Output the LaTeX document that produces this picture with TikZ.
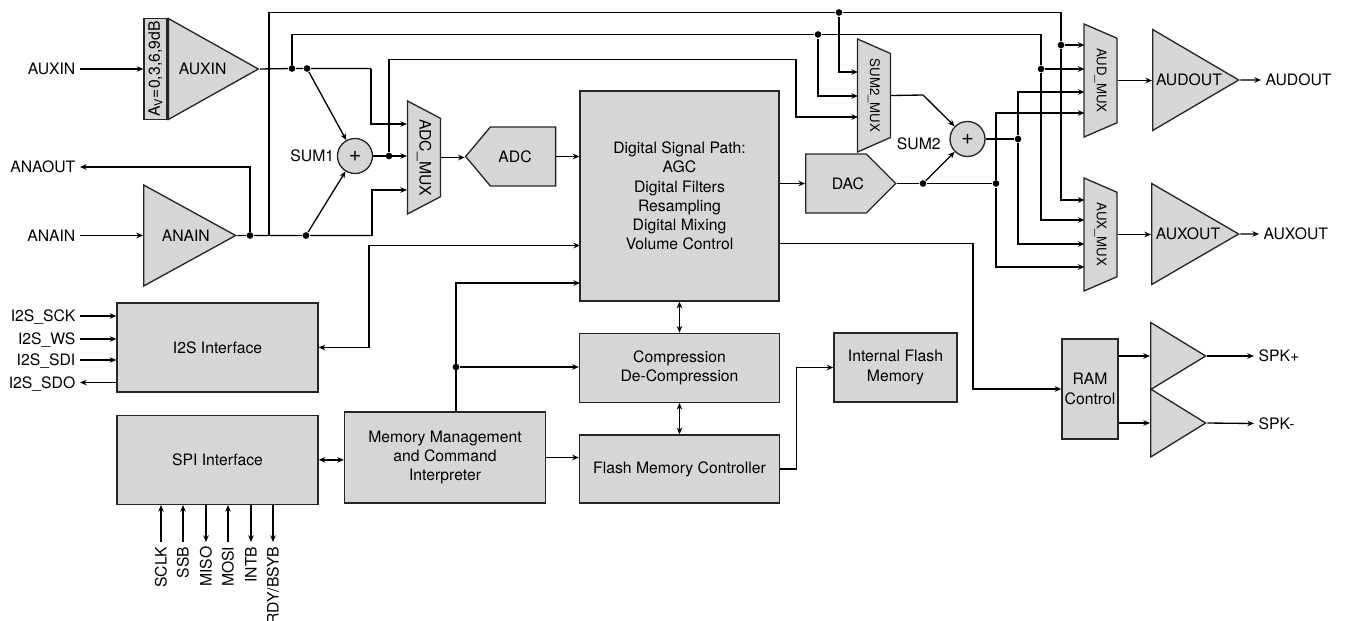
\documentclass[tikz,border=0pt]{standalone}
\usepackage{fontspec}
\setmainfont{TeX Gyre Heros}
\usepackage{tikz}
\usetikzlibrary{positioning,arrows.meta,shapes.geometric,shapes.symbols}
\definecolor{blockgray}{HTML}{D6D6D6}
\def\pxu{0.75pt}

\begin{document}
\begin{tikzpicture}[
  x=0.75pt, y=-0.75pt,
  line width=1pt,
  >={Stealth[length=5pt,width=4.2pt]},
  txt/.style={font=\fontsize{11.8}{14.4}\selectfont},
  box/.style={txt, draw=black!85, fill=blockgray, rectangle, inner sep=0pt, align=center},
  amp/.style={txt, draw=black!85, fill=blockgray, isosceles triangle, isosceles triangle stretches, inner sep=0pt, anchor=west},
  mux/.style={txt, draw=black!85, fill=blockgray, trapezium, trapezium stretches body, rotate=-90, inner sep=0pt, minimum height=33*\pxu, minimum width=113*\pxu, trapezium angle=40},
  smallmux/.style={mux, font=\fontsize{9.9}{12}\selectfont},
  conv/.style={txt, draw=black!85, fill=blockgray, signal, inner sep=0pt, minimum height=59*\pxu},
  sum/.style={draw=black!85, fill=blockgray, circle, inner sep=0pt, minimum size=35*\pxu, font=\fontsize{16}{16}\selectfont},
  lbl/.style={txt, inner sep=3pt, text height=8.5pt, text depth=0pt},
  dot/.style={circle, fill=black, inner sep=0pt, minimum size=5pt},
  wire/.style={},
  arrow/.style={->},
  both/.style={<->}
]
\useasboundingbox (0,0) rectangle (1346,621);

% inputs
\node[box, rotate=90, minimum width=101*\pxu, minimum height=23*\pxu] (gain) at (155.5,69) {A\textsubscript{V}=0,3,6,9dB};
\node[amp, minimum width=101*\pxu, minimum height=90*\pxu] (auxin) at (gain.south) {AUXIN};
\node[amp, minimum width=101*\pxu, minimum height=92*\pxu] (anain) at (143,235.5) {\hspace*{8pt}ANAIN};
\node[lbl, anchor=east] (auxinl) at (80,69) {AUXIN};
\node[lbl, anchor=east] (anaoutl) at (80,167) {ANAOUT};
\node[lbl, anchor=east] (anainl) at (80,235.5) {ANAIN};

% analog path
\node[sum] (sum1) at (355,156) {+};
\node[lbl, left=-1.5pt of sum1] (sum1l) {SUM1};
\node[mux] (adcmux) at (424,157.5) {ADC\_MUX};
\node[conv, signal to=west, signal pointer angle=100, minimum width=90*\pxu] (adc) at (523,156.5) {ADC\hspace*{12pt}};
\node[smallmux] (sum2mux) at (874,95.5) {SUM2\_MUX};
\node[sum] (sum2) at (967.5,139) {+};
\node[lbl, left=3pt of sum2, yshift=-3.75pt] (sum2l) {SUM2};
\node[conv, signal to=east, minimum width=90*\pxu] (dac) at (836,183.5) {\hspace*{18pt}DAC};
\node[smallmux] (audmux) at (1100.5,80.5) {AUD\_MUX};
\node[smallmux] (auxmux) at (1100.5,234.5) {AUX\_MUX};
\node[amp, minimum width=101*\pxu, minimum height=86*\pxu] (audout) at (1152,80) {AUDOUT};
\node[amp, minimum width=101*\pxu, minimum height=87*\pxu] (auxout) at (1151,234) {AUXOUT};
\node[lbl, anchor=west] (audoutl) at (1261,80) {AUDOUT};
\node[lbl, anchor=west] (auxoutl) at (1259,234) {AUXOUT};

% core blocks
\node[box, minimum width=199*\pxu, minimum height=210*\pxu] (dsp) at (679.5,196) {Digital Signal Path:\\AGC\\Digital Filters\\Resampling\\Digital Mixing\\Volume Control};
\node[box, minimum width=200*\pxu, minimum height=69*\pxu, below=23.2pt of dsp] (compress) {Compression\\De-Compression};
\node[box, minimum width=200*\pxu, minimum height=68*\pxu, below=23.5pt of compress] (flashctrl) {Flash Memory Controller};
\node[box, minimum width=123*\pxu, minimum height=69*\pxu] (flash) at (895.5,367.5) {Internal Flash\\Memory};
\node[box, minimum width=201*\pxu, minimum height=91*\pxu] (memory) at (445,457.5) {Memory Management\\and Command\\Interpreter};
\node[box, minimum width=201*\pxu, minimum height=89*\pxu] (i2s) at (217.5,347.5) {I2S Interface};
\node[box, minimum width=201*\pxu, minimum height=89*\pxu, below=16.5pt of i2s] (spi) {SPI Interface};
\node[box, minimum width=56*\pxu, minimum height=100*\pxu] (ram) at (1090,389) {RAM\\Control};
\node[amp, minimum width=67*\pxu, minimum height=55*\pxu] (spkp) at (1150,356) {};
\node[amp, minimum width=68*\pxu, minimum height=55*\pxu] (spkm) at (1150,423) {};
\node[lbl, anchor=west] (spkpl) at (1254,356) {SPK+};
\node[lbl, anchor=west] (spkml) at (1254,423.5) {SPK-};

% i2s and spi pins
\node[lbl, anchor=east] (sck) at (80,316) {I2S\_SCK};
\node[lbl, anchor=east] (ws) at (80,339) {I2S\_WS};
\node[lbl, anchor=east] (sdi) at (80,360) {I2S\_SDI};
\node[lbl, anchor=east] (sdo) at (80,382.5) {I2S\_SDO};
\node[lbl, rotate=90, anchor=east] (sclk) at (161,542) {SCLK};
\node[lbl, rotate=90, anchor=east] (ssb) at (183,542) {SSB};
\node[lbl, rotate=90, anchor=east] (miso) at (206,542) {MISO};
\node[lbl, rotate=90, anchor=east] (mosi) at (228,542) {MOSI};
\node[lbl, rotate=90, anchor=east] (intb) at (251,542) {INTB};
\node[lbl, rotate=90, anchor=east] (rdy) at (273,542) {RDY/BSYB};

% junctions
\node[dot] (jana) at (250,235.5) {};
\node[dot] (jsplit) at (306,235.5) {};
\node[dot] (jaux) at (292,68.5) {};
\node[dot] (jauxs) at (307,68.5) {};
\node[dot] (jsum) at (389,156) {};
\node[dot] (jtop) at (839,12.5) {};
\node[dot] (jsec) at (818,34.5) {};
\node[dot] (jauda) at (1061,45) {};
\node[dot] (jaudb) at (1041,69) {};
\node[dot] (jsumo) at (1018,139) {};
\node[dot] (jdacs) at (923,183.5) {};
\node[dot] (jdac) at (996,183.5) {};
\node[dot] (jmem) at (456,367) {};

% free ends on the muxes and blocks
\coordinate (tapana) at (269,235.5);
\coordinate (adc1) at (407,124);
\coordinate (adc2) at (407,156);
\coordinate (adc3) at (407,190);
\coordinate (bend1) at (371,68.5);
\coordinate (bend3) at (372,235.5);
\coordinate (sm1) at (858,72);
\coordinate (sm2) at (858,96);
\coordinate (sm3) at (858,117);
\coordinate (sbend) at (796,59.5);
\coordinate (smo) at (923,95);
\coordinate (aud1) at (1084.5,45);
\coordinate (aud2) at (1084.5,69);
\coordinate (aud3) at (1084.5,92);
\coordinate (aud4) at (1084.5,113);
\coordinate (aux1) at (1084.5,200);
\coordinate (aux2) at (1084.5,220);
\coordinate (aux3) at (1084.5,244);
\coordinate (aux4) at (1084.5,267);
\coordinate (dspa) at (779,243.5);
\coordinate (rambend) at (973,389);
\coordinate (dspi) at (580,245.5);
\coordinate (i2sbend) at (369,347.5);
\coordinate (dspm) at (580,283);

% connectors, analog side
\draw[arrow] (auxinl) -- (gain.north);
\draw[arrow] (anainl) -- (anain.west);
\draw[arrow] (jana) |- (anaoutl.east);
\draw[wire] (auxin.apex) -- (jaux) -- (jauxs) -- (bend1);
\draw[arrow] (bend1) |- (adc1);
\draw[wire] (anain.apex) -- (jana) -- (jsplit) -- (bend3);
\draw[arrow] (bend3) |- (adc3);
\draw[arrow] (jauxs) -- (sum1);
\draw[arrow] (jsplit) -- (sum1);
\draw[arrow] (sum1) -- (adc2);
\draw[arrow] (adcmux.north) -- (adcmux.north -| adc.west);
\draw[arrow] (adc.east) -- (adc.east -| dsp.west);
\draw[arrow] (dsp.east |- dac.west) -- (dac.west);

% connectors, upper buses
\draw[wire] (tapana) |- (jtop) -| (jauda);
\draw[arrow] (jauda) -- (aud1);
\draw[arrow] (jauda) |- (aux1);
\draw[wire] (jaux) |- (jsec) -| (jaudb);
\draw[arrow] (jaudb) -- (aud2);
\draw[arrow] (jaudb) |- (aux2);
\draw[arrow] (jtop) |- (sm1);
\draw[arrow] (jsec) |- (sm2);
\draw[arrow] (jsum) |- (sbend) |- (sm3);

% connectors, sum2 and outputs
\draw[wire] (sum2mux.north) -- (smo);
\draw[arrow] (smo) -- (sum2);
\draw[wire] (dac.east) -- (jdacs) -- (jdac);
\draw[arrow] (jdacs) -- (sum2);
\draw[wire] (sum2) -- (jsumo);
\draw[arrow] (jsumo) |- (aud3);
\draw[arrow] (jsumo) |- (aux3);
\draw[arrow] (jdac) |- (aud4);
\draw[arrow] (jdac) |- (aux4);
\draw[arrow] (audmux.north) -- (audmux.north -| audout.west);
\draw[arrow] (auxmux.north) -- (auxmux.north -| auxout.west);
\draw[arrow] (audout.apex) -- (audoutl.west);
\draw[arrow] (auxout.apex) -- (auxoutl.west);

% connectors, digital side
\draw[arrow] (dspa) -| (rambend) -- (ram.west);
\draw[both] (dspi) -| (i2sbend) -- (i2s.east);
\draw[arrow] (memory.north -| jmem) |- (dspm);
\draw[arrow] (jmem) -- (jmem -| compress.west);
\draw[both] (dsp.south) -- (compress.north);
\draw[both] (compress.south) -- (flashctrl.north);
\draw[arrow] (memory.east) -- (memory.east -| flashctrl.west);
\draw[arrow] (flashctrl.east) -- ++(16,0) |- (flash.west);
\draw[both] (spi.east) -- (spi.east -| memory.west);
\draw[arrow] (ram.east |- spkp.west) -- (spkp.west);
\draw[arrow] (ram.east |- spkm.west) -- (spkm.west);
\draw[arrow] (spkp.apex) -- (spkpl.west);
\draw[arrow] (spkm.apex) -- (spkml.west);

% pins
\draw[arrow] (sck.east) -- (sck.east -| i2s.west);
\draw[arrow] (ws.east) -- (ws.east -| i2s.west);
\draw[arrow] (sdi.east) -- (sdi.east -| i2s.west);
\draw[arrow] (sdo.east -| i2s.west) -- (sdo.east);
\draw[arrow] (sclk.east) -- (sclk.east |- spi.south);
\draw[arrow] (ssb.east) -- (ssb.east |- spi.south);
\draw[arrow] (miso.east |- spi.south) -- (miso.east);
\draw[arrow] (mosi.east) -- (mosi.east |- spi.south);
\draw[arrow] (intb.east |- spi.south) -- (intb.east);
\draw[arrow] (rdy.east |- spi.south) -- (rdy.east);
\end{tikzpicture}
\end{document}
